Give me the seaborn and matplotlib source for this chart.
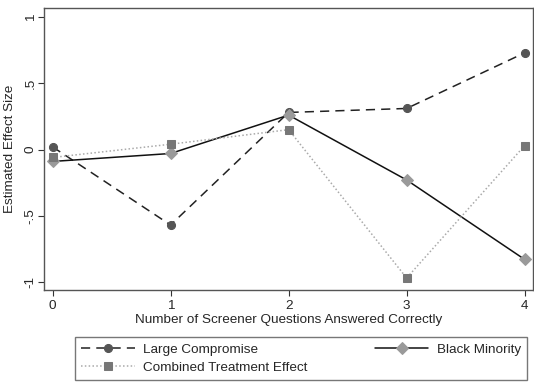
import matplotlib
matplotlib.use("Agg")
import matplotlib.pyplot as plt
import seaborn as sns
import pandas as pd

# data
questions = [0, 1, 2, 3, 4]
large_compromise = [0.02, -0.57, 0.28, 0.31, 0.73]
black_minority = [-0.09, -0.03, 0.26, -0.23, -0.83]
combined_effect = [-0.06, 0.04, 0.15, -0.97, 0.03]
series_names = ["Large Compromise", "Black Minority", "Combined Treatment Effect"]
y_ticks = [-1, -0.5, 0, 0.5, 1]
y_tick_labels = ["-1", "-.5", "0", ".5", "1"]

df = pd.DataFrame({
    "questions": questions * 3,
    "effect": large_compromise + black_minority + combined_effect,
    "series": [s for s in series_names for _ in questions],
})

sns.set_style("white")
plt.rcParams["font.family"] = ["Liberation Sans", "DejaVu Sans"]

fig = plt.figure(figsize=(5.34, 3.84), dpi=100)
ax = fig.add_axes([0.083, 0.245, 0.915, 0.734])

styles = {
    "Large Compromise": dict(color="#222222", linestyle=(0, (6, 4)), marker="o",
                             markerfacecolor="#555555", markeredgecolor="#555555", markersize=5.8),
    "Black Minority": dict(color="#111111", linestyle="-", marker="D",
                           markerfacecolor="#9a9a9a", markeredgecolor="#9a9a9a", markersize=5.8),
    "Combined Treatment Effect": dict(color="#aaaaaa", linestyle=(0, (1, 1.5)), marker="s",
                                      markerfacecolor="#777777", markeredgecolor="#777777", markersize=5.6),
}

handles = {}
for name in series_names:
    sub = df[df["series"] == name]
    sns.lineplot(data=sub, x="questions", y="effect", ax=ax, linewidth=1.1,
                 label=name, legend=False, **styles[name])
    handles[name] = ax.get_lines()[-1]

ax.set_xlim(-0.07, 4.07)
ax.set_ylim(-1.06, 1.068)
ax.set_xticks(questions)
ax.set_yticks(y_ticks)
ax.set_yticklabels(y_tick_labels, rotation=90, va="center")
ax.tick_params(axis="both", direction="out", length=4, width=0.8, labelsize=9.7,
               color="#333333", left=True, bottom=True, pad=3)
ax.tick_params(axis="y", pad=1.5)
ax.set_xlabel("Number of Screener Questions Answered Correctly", fontsize=9.7, labelpad=2)
ax.set_ylabel("Estimated Effect Size", fontsize=9.7, labelpad=6)

for side in ["left", "bottom", "top", "right"]:
    ax.spines[side].set_visible(True)
    ax.spines[side].set_color("#555555")
    ax.spines[side].set_linewidth(1.0)

# Stata-style legend: two columns, row-wise order
order = ["Large Compromise", "Combined Treatment Effect", "Black Minority"]
leg = fig.legend([handles[n] for n in order], order, ncol=2, loc="lower left",
                 bbox_to_anchor=(0.1404, 0.01, 0.846, 0.117), mode="expand",
                 borderaxespad=0, fontsize=9.7, frameon=True, fancybox=False,
                 edgecolor="#555555", handlelength=4, handletextpad=0.6,
                 borderpad=0.45, labelspacing=0.45, columnspacing=2)
leg.get_frame().set_linewidth(1.0)

fig.savefig("out.png", dpi=100)
